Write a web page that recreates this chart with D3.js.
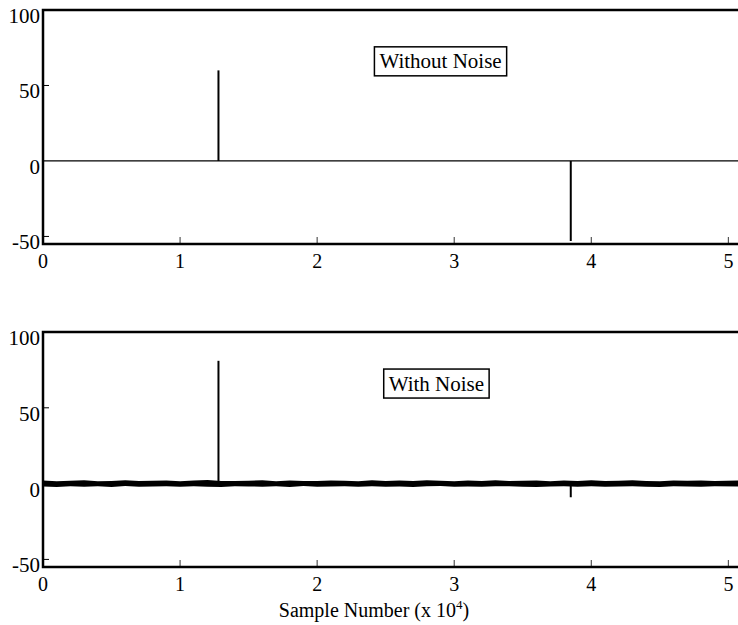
<!DOCTYPE html>
<html>
<head>
<meta charset="utf-8">
<script src="https://cdn.jsdelivr.net/npm/d3@7"></script>
<style>
  html, body { margin: 0; padding: 0; background: #fff; }
  svg { display: block; }
  text { font-family: "Liberation Serif", "Times New Roman", serif; fill: #000; }
</style>
</head>
<body>
<svg id="chart" width="738" height="625"></svg>
<script>
// ---- data (x in units of 10^4 samples) ----
const xTicks = [0, 1, 2, 3, 4, 5];
const yTicks = [100, 50, 0, -50];
const panelTitles = ["Without Noise", "With Noise"];
const xLabel = "Sample Number (x 10";
const xLabelSup = "4";
const xLabelEnd = ")";

// spikes: position and amplitude
const spikePos = [1.28, 3.85];
const spikeCleanAmp = [60, -53];
const spikeNoisyAmp = [81, -9];

// noise envelope (upper / lower values along x)
const noiseX = [0, 0.1, 0.2, 0.3, 0.4, 0.5, 0.6, 0.7, 0.8, 0.9, 1.0, 1.1, 1.2, 1.3, 1.4, 1.5, 1.6, 1.7,
                1.8, 1.9, 2.0, 2.1, 2.2, 2.3, 2.4, 2.5, 2.6, 2.7, 2.8, 2.9, 3.0, 3.1, 3.2, 3.3, 3.4,
                3.5, 3.6, 3.7, 3.8, 3.9, 4.0, 4.1, 4.2, 4.3, 4.4, 4.5, 4.6, 4.7, 4.8, 4.9, 5.07];
const noiseUpper = [2.0, 1.6, 1.9, 2.2, 1.5, 1.8, 2.3, 1.7, 1.9, 2.1, 1.6, 2.0, 2.4, 1.8, 1.7, 1.9,
                    2.2, 1.6, 2.0, 1.8, 1.7, 2.1, 1.9, 1.6, 2.2, 1.8, 2.0, 1.7, 2.3, 1.9, 1.6, 2.0,
                    1.8, 2.2, 1.7, 1.9, 2.1, 1.6, 2.0, 1.8, 2.2, 1.7, 1.9, 2.3, 1.8, 1.6, 2.1, 1.9,
                    2.0, 1.7, 2.0];
const noiseLower = [-1.9, -2.2, -1.7, -2.0, -1.8, -2.3, -1.6, -2.0, -1.9, -1.7, -2.1, -1.8, -2.0, -2.2,
                    -1.7, -1.9, -2.0, -1.8, -2.2, -1.6, -2.0, -1.9, -1.8, -2.1, -1.7, -2.0, -1.9, -2.2,
                    -1.8, -1.6, -2.0, -1.9, -2.1, -1.7, -1.8, -2.0, -2.2, -1.9, -1.7, -2.0, -1.8, -2.1,
                    -1.9, -1.7, -2.0, -2.2, -1.8, -1.9, -2.0, -1.7, -1.9];

const FS = 21;
const svg = d3.select("#chart");
const x = d3.scaleLinear().domain([0, 5.07]).range([43, 738]);

const panels = [
  { top: 10, bottom: 244, amps: spikeCleanAmp, noisy: false, title: panelTitles[0], boxX: 2.9, boxY: 66 },
  { top: 332, bottom: 567, amps: spikeNoisyAmp, noisy: true, title: panelTitles[1], boxX: 2.87, boxY: 66 }
];

panels.forEach(p => {
  const y = d3.scaleLinear().domain([-55, 100]).range([p.bottom, p.top]);
  const g = svg.append("g");

  if (!p.noisy) {
    g.append("line")
      .attr("x1", x(0)).attr("x2", x(5.07))
      .attr("y1", y(0)).attr("y2", y(0))
      .attr("stroke", "#000").attr("stroke-width", 1.2);
  } else {
    const band = noiseX.map((v, i) => ({ x: v, hi: noiseUpper[i], lo: noiseLower[i] }));
    g.append("path")
      .datum(band)
      .attr("d", d3.area().x(d => x(d.x)).y0(d => y(d.lo)).y1(d => y(d.hi)))
      .attr("fill", "#000");
  }

  // spikes
  g.selectAll(".spike")
    .data(spikePos.map((v, i) => ({ x: v, a: p.amps[i] })))
    .enter().append("line")
    .attr("x1", d => x(d.x)).attr("x2", d => x(d.x))
    .attr("y1", y(0)).attr("y2", d => y(d.a))
    .attr("stroke", "#000").attr("stroke-width", 2);

  // y ticks (inward)
  g.selectAll(".yt")
    .data(yTicks.filter(t => t !== 100 && t !== 0))
    .enter().append("line")
    .attr("x1", x(0)).attr("x2", x(0) + 6)
    .attr("y1", d => y(d)).attr("y2", d => y(d))
    .attr("stroke", "#000").attr("stroke-width", 1);
  g.selectAll(".yl")
    .data(yTicks)
    .enter().append("text")
    .attr("x", 40).attr("y", d => y(d) + 6)
    .attr("text-anchor", "end")
    .attr("dominant-baseline", "central")
    .attr("font-size", FS)
    .text(d => d);

  // x ticks (inward, upward)
  g.selectAll(".xt")
    .data(xTicks.filter(t => t > 0))
    .enter().append("line")
    .attr("x1", d => x(d)).attr("x2", d => x(d))
    .attr("y1", p.bottom).attr("y2", p.bottom - 7)
    .attr("stroke", "#555").attr("stroke-width", 1.2);
  g.selectAll(".xl")
    .data(xTicks)
    .enter().append("text")
    .attr("x", d => x(d)).attr("y", p.bottom + 17)
    .attr("text-anchor", "middle")
    .attr("dominant-baseline", "central")
    .attr("font-size", 20)
    .text(d => d);

  // frame: top, left, bottom
  g.append("path")
    .attr("d", `M${x(5.07)},${p.top}H${x(0)}V${p.bottom}H${x(5.07)}`)
    .attr("fill", "none").attr("stroke", "#000").attr("stroke-width", 2.5);

  // title box
  const tb = g.append("g").attr("transform", `translate(${x(p.boxX)},${y(p.boxY)})`);
  const t = tb.append("text")
    .attr("text-anchor", "middle").attr("dominant-baseline", "central")
    .attr("font-size", FS).text(p.title);
  const bb = t.node().getBBox();
  tb.insert("rect", "text")
    .attr("x", bb.x - 5).attr("y", -14.5)
    .attr("width", bb.width + 10).attr("height", 29)
    .attr("fill", "#fff").attr("stroke", "#000").attr("stroke-width", 1.5);
});

// x axis label
const xl = svg.append("text")
  .attr("x", 374).attr("y", 610)
  .attr("text-anchor", "middle").attr("dominant-baseline", "central")
  .attr("font-size", 20);
xl.append("tspan").text(xLabel);
xl.append("tspan").attr("font-size", 13).attr("dy", -6).text(xLabelSup);
xl.append("tspan").attr("dy", 6).text(xLabelEnd);
</script>
</body>
</html>
